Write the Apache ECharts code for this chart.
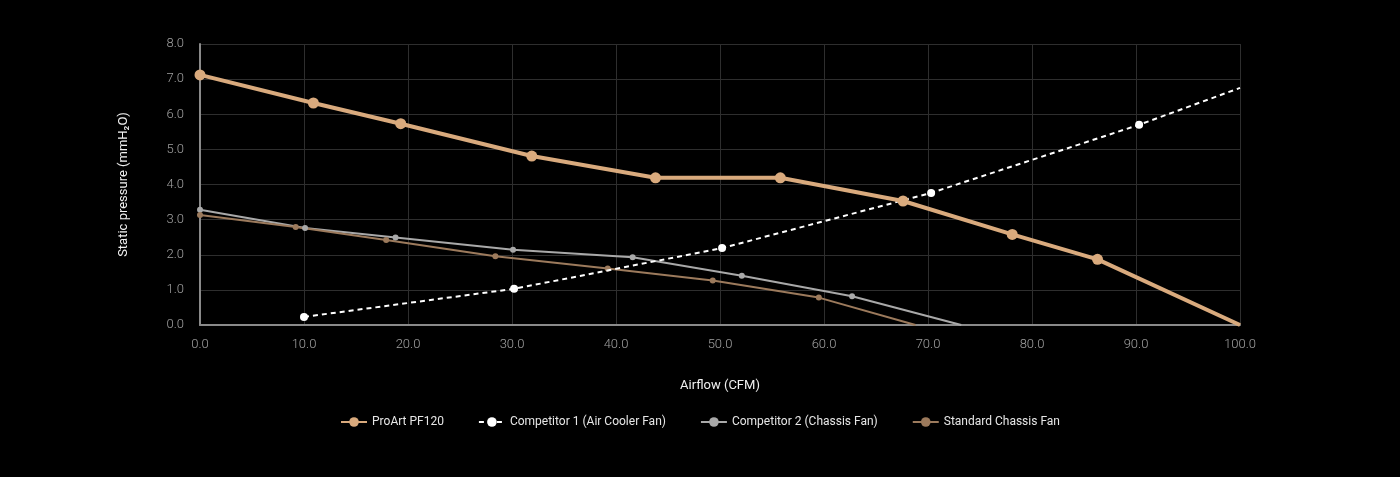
<!DOCTYPE html>
<html>
<head>
<meta charset="utf-8">
<script src="https://cdn.jsdelivr.net/npm/echarts@6/dist/echarts.min.js"></script>
<style>
  html, body { margin: 0; padding: 0; background: #000; }
  #chart { width: 1400px; height: 477px; }
</style>
</head>
<body>
<div id="chart"></div>
<script>
const seriesNames = ['ProArt PF120', 'Competitor 1 (Air Cooler Fan)', 'Competitor 2 (Chassis Fan)', 'Standard Chassis Fan'];

// [airflow CFM, static pressure mmH2O]
const proArt = [[0, 7.12], [10.9, 6.32], [19.3, 5.73], [31.9, 4.81], [43.8, 4.19], [55.8, 4.19], [67.6, 3.53], [78.1, 2.58], [86.3, 1.87], [100, 0]];
const competitor1 = [[10, 0.23], [30.2, 1.03], [50.2, 2.19], [70.3, 3.76], [90.3, 5.70], [100, 6.75]];
const competitor2 = [[0, 3.28], [10.1, 2.76], [18.8, 2.49], [30.1, 2.14], [41.6, 1.93], [52.1, 1.40], [62.7, 0.82], [73.2, 0]];
const standardFan = [[0, 3.13], [9.2, 2.79], [17.9, 2.42], [28.4, 1.96], [39.2, 1.61], [49.3, 1.27], [59.5, 0.78], [68.8, 0]];

const xTicks = [0, 10, 20, 30, 40, 50, 60, 70, 80, 90, 100];
const yTicks = [0, 1, 2, 3, 4, 5, 6, 7, 8];

// last point of every curve is drawn without a marker
function points(list) {
  return list.map((p, i) => (i === list.length - 1 ? {value: p, symbol: 'none'} : p));
}

const chart = echarts.init(document.getElementById('chart'));

const axisText = {color: '#a0a0a0', fontSize: 13, fontFamily: 'Roboto', fontWeight: 300};

chart.setOption({
  backgroundColor: '#000',
  animation: false,
  grid: {left: 200, right: 160, top: 44, bottom: 152},
  legend: {
    bottom: 44,
    left: 'center',
    itemGap: 34,
    itemWidth: 26,
    itemHeight: 12,
    textStyle: {color: '#e6e6e6', fontSize: 12, fontFamily: 'Roboto'},
    data: seriesNames
  },
  xAxis: {
    type: 'value',
    min: xTicks[0],
    max: xTicks[xTicks.length - 1],
    interval: 10,
    name: 'Airflow (CFM)',
    nameLocation: 'middle',
    nameGap: 54,
    nameTextStyle: {color: '#f0f0f0', fontSize: 13, fontFamily: 'Roboto'},
    axisLine: {show: true, lineStyle: {color: '#8a8a8a', width: 2}},
    axisTick: {show: false},
    axisLabel: {...axisText, margin: 13, formatter: (v) => v.toFixed(1)},
    splitLine: {show: true, lineStyle: {color: '#2e2e2e', width: 1}}
  },
  yAxis: {
    type: 'value',
    min: yTicks[0],
    max: yTicks[yTicks.length - 1],
    interval: 1,
    name: 'Static pressure (mmH₂O)',
    nameLocation: 'middle',
    nameGap: 70,
    nameRotate: 90,
    nameTextStyle: {color: '#f0f0f0', fontSize: 13, fontFamily: 'Roboto'},
    axisLine: {show: true, lineStyle: {color: '#8a8a8a', width: 2}},
    axisTick: {show: false},
    axisLabel: {...axisText, margin: 16, formatter: (v) => v.toFixed(1)},
    splitLine: {show: true, lineStyle: {color: '#2e2e2e', width: 1}}
  },
  series: [
    {
      name: seriesNames[0],
      type: 'line',
      data: points(proArt),
      symbol: 'circle',
      symbolSize: 11,
      color: '#d9aa7d',
      lineStyle: {width: 4, color: '#d9aa7d'},
      itemStyle: {color: '#d9aa7d'},
      z: 4
    },
    {
      name: seriesNames[1],
      type: 'line',
      data: points(competitor1),
      symbol: 'circle',
      symbolSize: 8,
      color: '#ffffff',
      lineStyle: {width: 2, type: [5, 4], color: '#ffffff'},
      itemStyle: {color: '#ffffff'},
      z: 3
    },
    {
      name: seriesNames[2],
      type: 'line',
      data: points(competitor2),
      symbol: 'circle',
      symbolSize: 6,
      color: '#a9a9a9',
      lineStyle: {width: 2, color: '#a9a9a9'},
      itemStyle: {color: '#a9a9a9'},
      z: 2
    },
    {
      name: seriesNames[3],
      type: 'line',
      data: points(standardFan),
      symbol: 'circle',
      symbolSize: 6,
      color: '#9c7a5c',
      lineStyle: {width: 2, color: '#9c7a5c'},
      itemStyle: {color: '#9c7a5c'},
      z: 2
    }
  ]
});

window.addEventListener('resize', () => chart.resize());
</script>
</body>
</html>
